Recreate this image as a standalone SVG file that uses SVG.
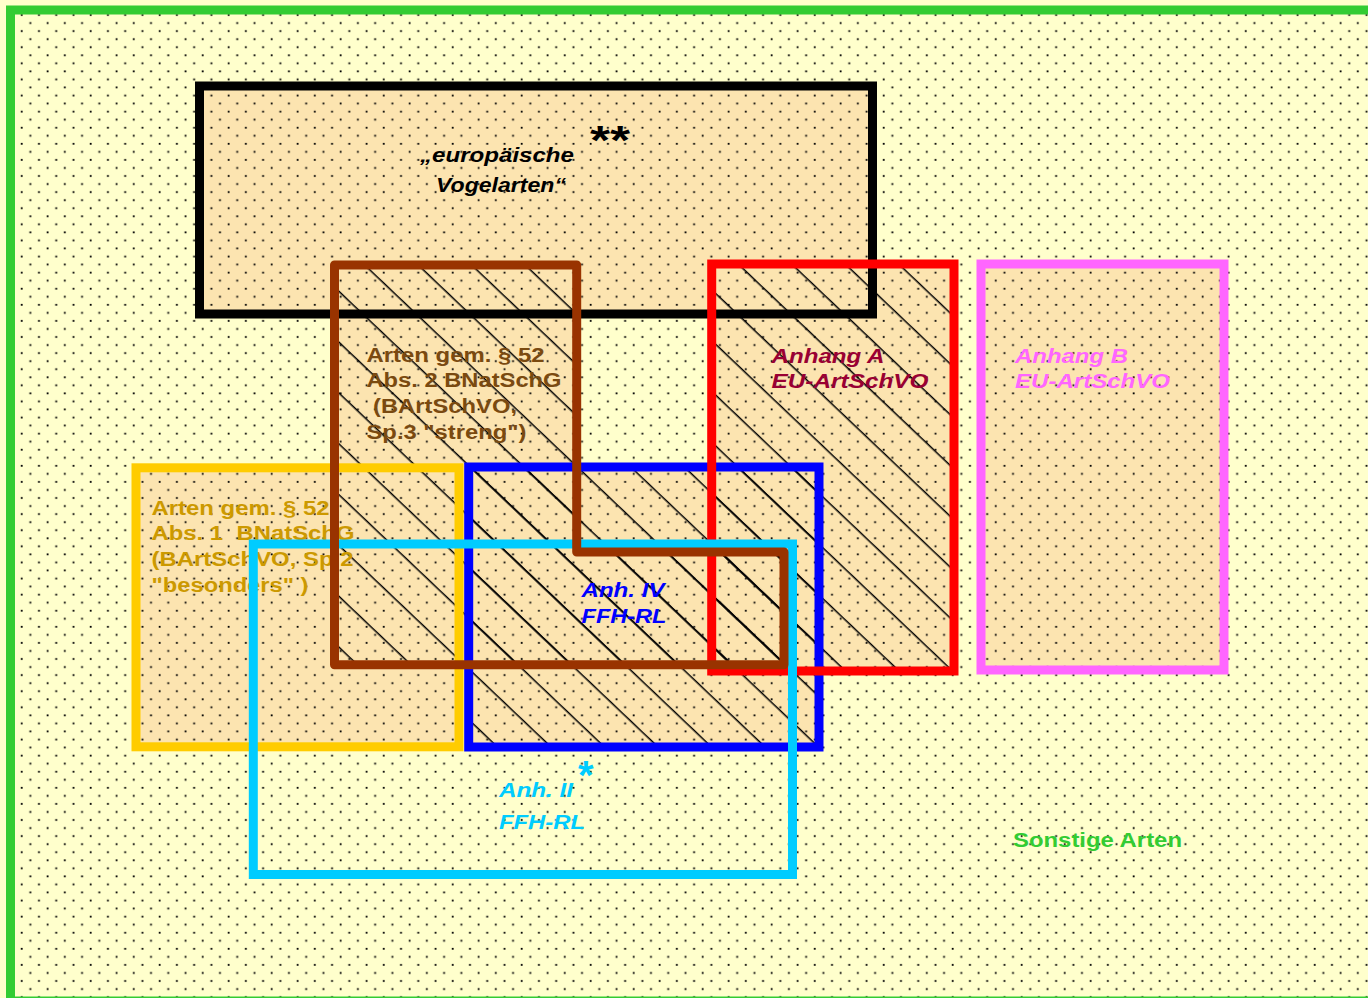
<svg xmlns="http://www.w3.org/2000/svg" width="1368" height="998" viewBox="0 0 1368 998">
<defs>
<pattern id="dots" patternUnits="userSpaceOnUse" width="17.24" height="16.1">
<rect x="3.6" y="14.1" width="1.8" height="1.8" fill="#000"/>
<rect x="12.2" y="6.05" width="1.8" height="1.8" fill="#000"/>
</pattern>
<pattern id="hatch" patternUnits="userSpaceOnUse" width="60" height="36.85" patternTransform="rotate(43.53)">
<rect x="0" y="13.9" width="60" height="1.5" fill="#000"/>
</pattern>
</defs>
<style>
.bg{fill:#FCE4B0}
.hatch{fill:url(#hatch)}
.box{fill:none;stroke-width:9}
.lbl{font-family:"Liberation Sans",Arial,sans-serif;font-weight:bold;font-size:20px}
.it{font-style:italic}
</style>
<rect width="1368" height="998" fill="#FFFFCC"/>
<g id="fills">
<rect class="bg" x="199.5" y="86" width="673" height="228"/>
<rect class="bg" x="981" y="264" width="243" height="406"/>
<rect class="bg" x="136" y="467.8" width="323" height="279"/>
<rect class="bg" x="468.7" y="467" width="350.3" height="280"/>
<rect class="bg" x="711.7" y="264" width="242.3" height="407"/>
<polygon class="bg" points="334.5,265 576.7,265 576.7,552 784,552 784,664.7 334.5,664.7"/>
<rect x="10" y="10" width="1358" height="990" fill="url(#dots)"/>
<rect class="hatch" x="468.7" y="467" width="350.3" height="280"/>
<rect class="hatch" x="711.7" y="264" width="242.3" height="407"/>
<polygon class="hatch" points="334.5,265 576.7,265 576.7,552 784,552 784,664.7 334.5,664.7"/>
</g>
<g id="connectors"/>
<g id="node-sonstige">
<rect class="box" x="10.5" y="10" width="1375" height="991" stroke="#33CC33"/>
<text class="lbl" x="1013" y="847.3" fill="#33CC33" textLength="169" lengthAdjust="spacingAndGlyphs">Sonstige Arten</text>
</g>
<g id="node-vogelarten">
<text class="lbl it" x="420" y="161.7" fill="#000" textLength="154" lengthAdjust="spacingAndGlyphs">„europäische</text>
<text class="lbl it" x="436" y="191.7" fill="#000" textLength="130" lengthAdjust="spacingAndGlyphs">Vogelarten“</text>
<text class="lbl it" x="588" y="154" fill="#000" style="font-size:40px" textLength="40" lengthAdjust="spacingAndGlyphs">**</text>
<rect class="box" x="199.5" y="86" width="673" height="228" stroke="#000"/>
</g>
<g id="node-anhang-b">
<text class="lbl it" x="1015" y="363.3" fill="#FF66FF" textLength="113" lengthAdjust="spacingAndGlyphs">Anhang B</text>
<text class="lbl it" x="1015" y="388.3" fill="#FF66FF" textLength="155" lengthAdjust="spacingAndGlyphs">EU-ArtSchVO</text>
<rect class="box" x="981" y="264" width="243" height="406" stroke="#FF66FF"/>
</g>
<g id="node-anh-iv">
<text class="lbl it" x="581.5" y="596.7" fill="#0000FF" textLength="83" lengthAdjust="spacingAndGlyphs">Anh. IV</text>
<text class="lbl it" x="581.5" y="622.7" fill="#0000FF" textLength="85" lengthAdjust="spacingAndGlyphs">FFH-RL</text>
<rect class="box" x="468.7" y="467" width="350.3" height="280" stroke="#0000FF"/>
</g>
<g id="node-anhang-a">
<text class="lbl it" x="771.5" y="363.3" fill="#990033" textLength="113" lengthAdjust="spacingAndGlyphs">Anhang A</text>
<text class="lbl it" x="771.5" y="388.3" fill="#990033" textLength="157" lengthAdjust="spacingAndGlyphs">EU-ArtSchVO</text>
<rect class="box" x="711.7" y="264" width="242.3" height="407" stroke="#FF0000"/>
</g>
<g id="node-besonders">
<text class="lbl" x="151.5" y="515" fill="#CC9900" textLength="178" lengthAdjust="spacingAndGlyphs">Arten gem. § 52</text>
<text class="lbl" x="151.5" y="540" fill="#CC9900" textLength="203" lengthAdjust="spacingAndGlyphs" xml:space="preserve">Abs. 1  BNatSchG</text>
<text class="lbl" x="151.5" y="566.3" fill="#CC9900" textLength="202" lengthAdjust="spacingAndGlyphs">(BArtSchVO, Sp.2</text>
<text class="lbl" x="151.5" y="592" fill="#CC9900" textLength="157" lengthAdjust="spacingAndGlyphs">"besonders" )</text>
<rect class="box" x="136" y="467.8" width="323" height="279" stroke="#FFCC00"/>
</g>
<g id="node-anh-ii">
<text class="lbl it" x="499" y="796.7" fill="#00CCFF" textLength="74" lengthAdjust="spacingAndGlyphs">Anh. II</text>
<text class="lbl it" x="499" y="829.3" fill="#00CCFF" textLength="86" lengthAdjust="spacingAndGlyphs">FFH-RL</text>
<text class="lbl" x="578" y="789" fill="#00CCFF" style="font-size:40px">*</text>
<rect class="box" x="253.3" y="544" width="539.2" height="330.5" stroke="#00CCFF"/>
</g>
<g id="node-streng">
<text class="lbl" x="366.5" y="361.7" fill="#7A4A10" textLength="178" lengthAdjust="spacingAndGlyphs">Arten gem. § 52</text>
<text class="lbl" x="366.5" y="387.3" fill="#7A4A10" textLength="195" lengthAdjust="spacingAndGlyphs">Abs. 2 BNatSchG</text>
<text class="lbl" x="373" y="413.3" fill="#7A4A10" textLength="144" lengthAdjust="spacingAndGlyphs">(BArtSchVO,</text>
<text class="lbl" x="366.5" y="439.3" fill="#7A4A10" textLength="160" lengthAdjust="spacingAndGlyphs">Sp.3 "streng")</text>
<polygon class="box" points="334.5,265 576.7,265 576.7,552 784,552 784,664.7 334.5,664.7" stroke="#993300" stroke-linejoin="round"/>
</g>
</svg>
